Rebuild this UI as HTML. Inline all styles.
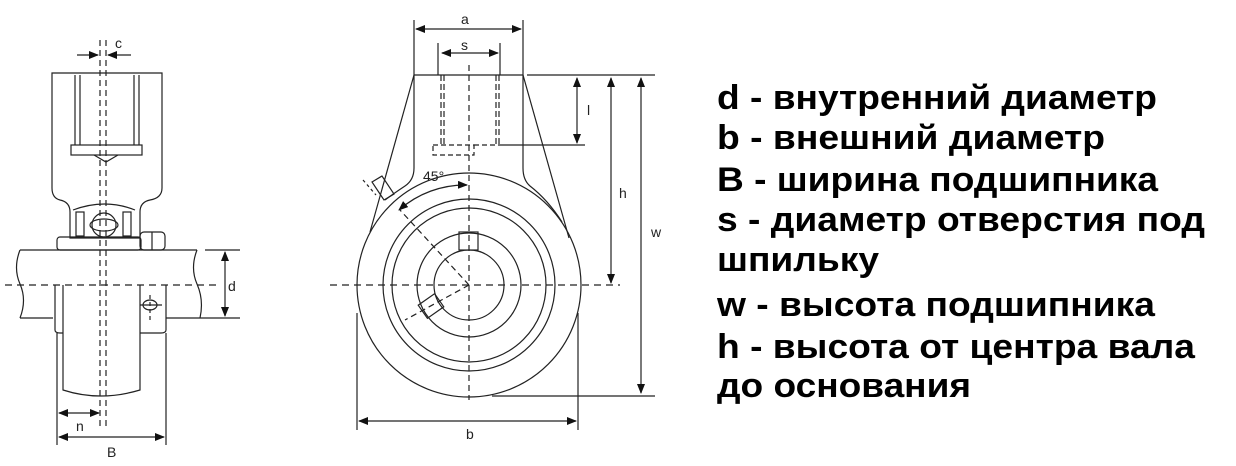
<!DOCTYPE html>
<html><head><meta charset="utf-8"><style>
html,body{margin:0;padding:0;background:#fff;}
svg{display:block;}
.t{font-family:"Liberation Sans",sans-serif;font-weight:bold;font-size:34px;fill:#000;}
.l{font-family:"Liberation Sans",sans-serif;font-size:14px;fill:#222;}
</style></head><body>
<svg width="1236" height="466" viewBox="0 0 1236 466" xmlns="http://www.w3.org/2000/svg">
<defs>
<marker id="ar" markerWidth="10" markerHeight="8" refX="9" refY="4" orient="auto-start-reverse" markerUnits="userSpaceOnUse">
<path d="M0,0 L10,4 L0,8 z" fill="#111"/></marker>
</defs>
<g stroke="#222" stroke-width="1.2" fill="none">
<!-- LEFT DRAWING -->
<path d="M52,73 H162 V188 Q162,198 150,200 Q140,202 140,212 V238 H70 V212 Q70,202 60,200 Q52,198 52,188 Z" fill="#fff"/>
<line x1="75" y1="75" x2="75" y2="145"/><line x1="80" y1="75" x2="80" y2="145"/>
<line x1="134" y1="75" x2="134" y2="145"/><line x1="139" y1="75" x2="139" y2="145"/>
<rect x="71" y="145" width="71" height="10" fill="#fff"/>
<path d="M94,155 L106,162 L118,155"/>
<path d="M73,210 Q105,198 135,210"/>
<circle cx="104" cy="225" r="12"/>
<ellipse cx="104" cy="225" rx="14" ry="6"/>
<rect x="76" y="212" width="8" height="24"/><rect x="123" y="212" width="8" height="24"/>
<rect x="57" y="237" width="84" height="13" rx="3"/>
<rect x="140" y="232" width="25" height="18" rx="4"/>
<line x1="152" y1="232" x2="152" y2="250"/>
<path d="M20,250 H197 M20,318 H53 M166,318 H200"/>
<path d="M20,250 Q13,268 20,284 Q27,300 20,318"/>
<path d="M197,250 Q190,268 197,284 Q204,300 200,318"/>
<path d="M55,285 V330 Q55,333 60,333 H63"/>
<path d="M166,285 V330 Q166,333 161,333 H140"/>
<path d="M63,285 V390 Q100,402 140,390 V285"/>
<ellipse cx="150" cy="305" rx="7" ry="5"/>
<line x1="150" y1="295" x2="150" y2="322" stroke-dasharray="4,3"/>
<line x1="140" y1="305" x2="162" y2="305"/>
<line x1="100" y1="40" x2="100" y2="430" stroke-dasharray="6,4"/>
<line x1="106" y1="40" x2="106" y2="430" stroke-dasharray="6,4"/>
<line x1="5" y1="285" x2="218" y2="285" stroke-dasharray="7,5"/>
<line x1="205" y1="250" x2="240" y2="250"/><line x1="200" y1="318" x2="240" y2="318"/>
<line x1="225" y1="252" x2="225" y2="316" marker-start="url(#ar)" marker-end="url(#ar)"/>
<line x1="57" y1="333" x2="57" y2="445"/><line x1="166" y1="333" x2="166" y2="445"/>
<line x1="59" y1="413" x2="99" y2="413" marker-start="url(#ar)" marker-end="url(#ar)"/>
<line x1="59" y1="437" x2="164" y2="437" marker-start="url(#ar)" marker-end="url(#ar)"/>
<line x1="77" y1="55" x2="98" y2="55" marker-end="url(#ar)"/>
<line x1="131" y1="55" x2="108" y2="55" marker-end="url(#ar)"/>

<!-- MIDDLE DRAWING -->
<path d="M414,75 H523 L569,238" />
<path d="M414,75 L370,232"/>
<path d="M414,75 V168 Q414,180 405,186 Q393,194 385,200"/>
<path d="M523,75 V168 Q523,180 530,186 Q548,200 562,222"/>
<circle cx="469" cy="285" r="112"/>
<circle cx="469" cy="285" r="86"/>
<circle cx="469" cy="285" r="77"/>
<circle cx="469" cy="285" r="52"/>
<circle cx="469" cy="285" r="35"/>
<rect x="459" y="232" width="19" height="18"/>
<rect x="421" y="298" width="20" height="16" transform="rotate(-35 431 306)"/>
<path d="M372,182 l10,-6 l12,18 l-10,6 z"/>
<path d="M363,180 L376,195" stroke-dasharray="3,3"/>
<line x1="441" y1="75" x2="441" y2="145" stroke-dasharray="6,3"/>
<line x1="444" y1="75" x2="444" y2="145" stroke-dasharray="6,3"/>
<line x1="496" y1="75" x2="496" y2="145" stroke-dasharray="6,3"/>
<line x1="499" y1="75" x2="499" y2="145" stroke-dasharray="6,3"/>
<rect x="433" y="145" width="41" height="10" stroke-dasharray="5,3"/>
<line x1="474" y1="145" x2="504" y2="145" stroke-dasharray="5,3"/>
<line x1="469" y1="65" x2="469" y2="400" stroke-dasharray="6,4"/>
<line x1="330" y1="285" x2="620" y2="285" stroke-dasharray="7,5"/>
<line x1="469" y1="285" x2="400" y2="210" stroke-dasharray="6,4"/>
<line x1="469" y1="285" x2="405" y2="320" stroke-dasharray="6,4"/>
<path d="M467,185 A100,100 0 0 0 399,210" marker-start="url(#ar)" marker-end="url(#ar)"/>
<line x1="414" y1="20" x2="414" y2="75"/><line x1="523" y1="20" x2="523" y2="75"/>
<line x1="416" y1="29" x2="521" y2="29" marker-start="url(#ar)" marker-end="url(#ar)"/>
<line x1="438" y1="43" x2="438" y2="75"/><line x1="500" y1="43" x2="500" y2="75"/>
<line x1="442" y1="53" x2="498" y2="53" marker-start="url(#ar)" marker-end="url(#ar)"/>
<line x1="527" y1="75" x2="655" y2="75"/>
<line x1="503" y1="145" x2="585" y2="145"/>
<line x1="577" y1="78" x2="577" y2="143" marker-start="url(#ar)" marker-end="url(#ar)"/>
<line x1="611" y1="78" x2="611" y2="283" marker-start="url(#ar)" marker-end="url(#ar)"/>
<line x1="641" y1="78" x2="641" y2="393" marker-start="url(#ar)" marker-end="url(#ar)"/>
<line x1="492" y1="396" x2="655" y2="396"/>
<line x1="357" y1="313" x2="357" y2="430"/><line x1="578" y1="313" x2="578" y2="430"/>
<line x1="359" y1="421" x2="576" y2="421" marker-start="url(#ar)" marker-end="url(#ar)"/>
</g>
<g class="l">
<text x="115" y="48">c</text>
<text x="228" y="291">d</text>
<text x="76" y="431">n</text>
<text x="107" y="457">B</text>
<text x="461" y="24">a</text>
<text x="461" y="50">s</text>
<text x="587" y="115">l</text>
<text x="619" y="198">h</text>
<text x="651" y="237">w</text>
<text x="466" y="439">b</text>
<text x="423" y="181">45°</text>
</g>
<g class="t">
<text x="717" y="109" textLength="440" lengthAdjust="spacingAndGlyphs">d - внутренний диаметр</text>
<text x="717" y="149" textLength="388" lengthAdjust="spacingAndGlyphs">b - внешний диаметр</text>
<text x="717" y="191" textLength="441" lengthAdjust="spacingAndGlyphs">B - ширина подшипника</text>
<text x="717" y="231" textLength="488" lengthAdjust="spacingAndGlyphs">s - диаметр отверстия под</text>
<text x="717" y="271" textLength="162" lengthAdjust="spacingAndGlyphs">шпильку</text>
<text x="717" y="316" textLength="438" lengthAdjust="spacingAndGlyphs">w - высота подшипника</text>
<text x="717" y="358" textLength="478" lengthAdjust="spacingAndGlyphs">h - высота от центра вала</text>
<text x="717" y="397" textLength="254" lengthAdjust="spacingAndGlyphs">до основания</text>
</g>
</svg>
</body></html>
